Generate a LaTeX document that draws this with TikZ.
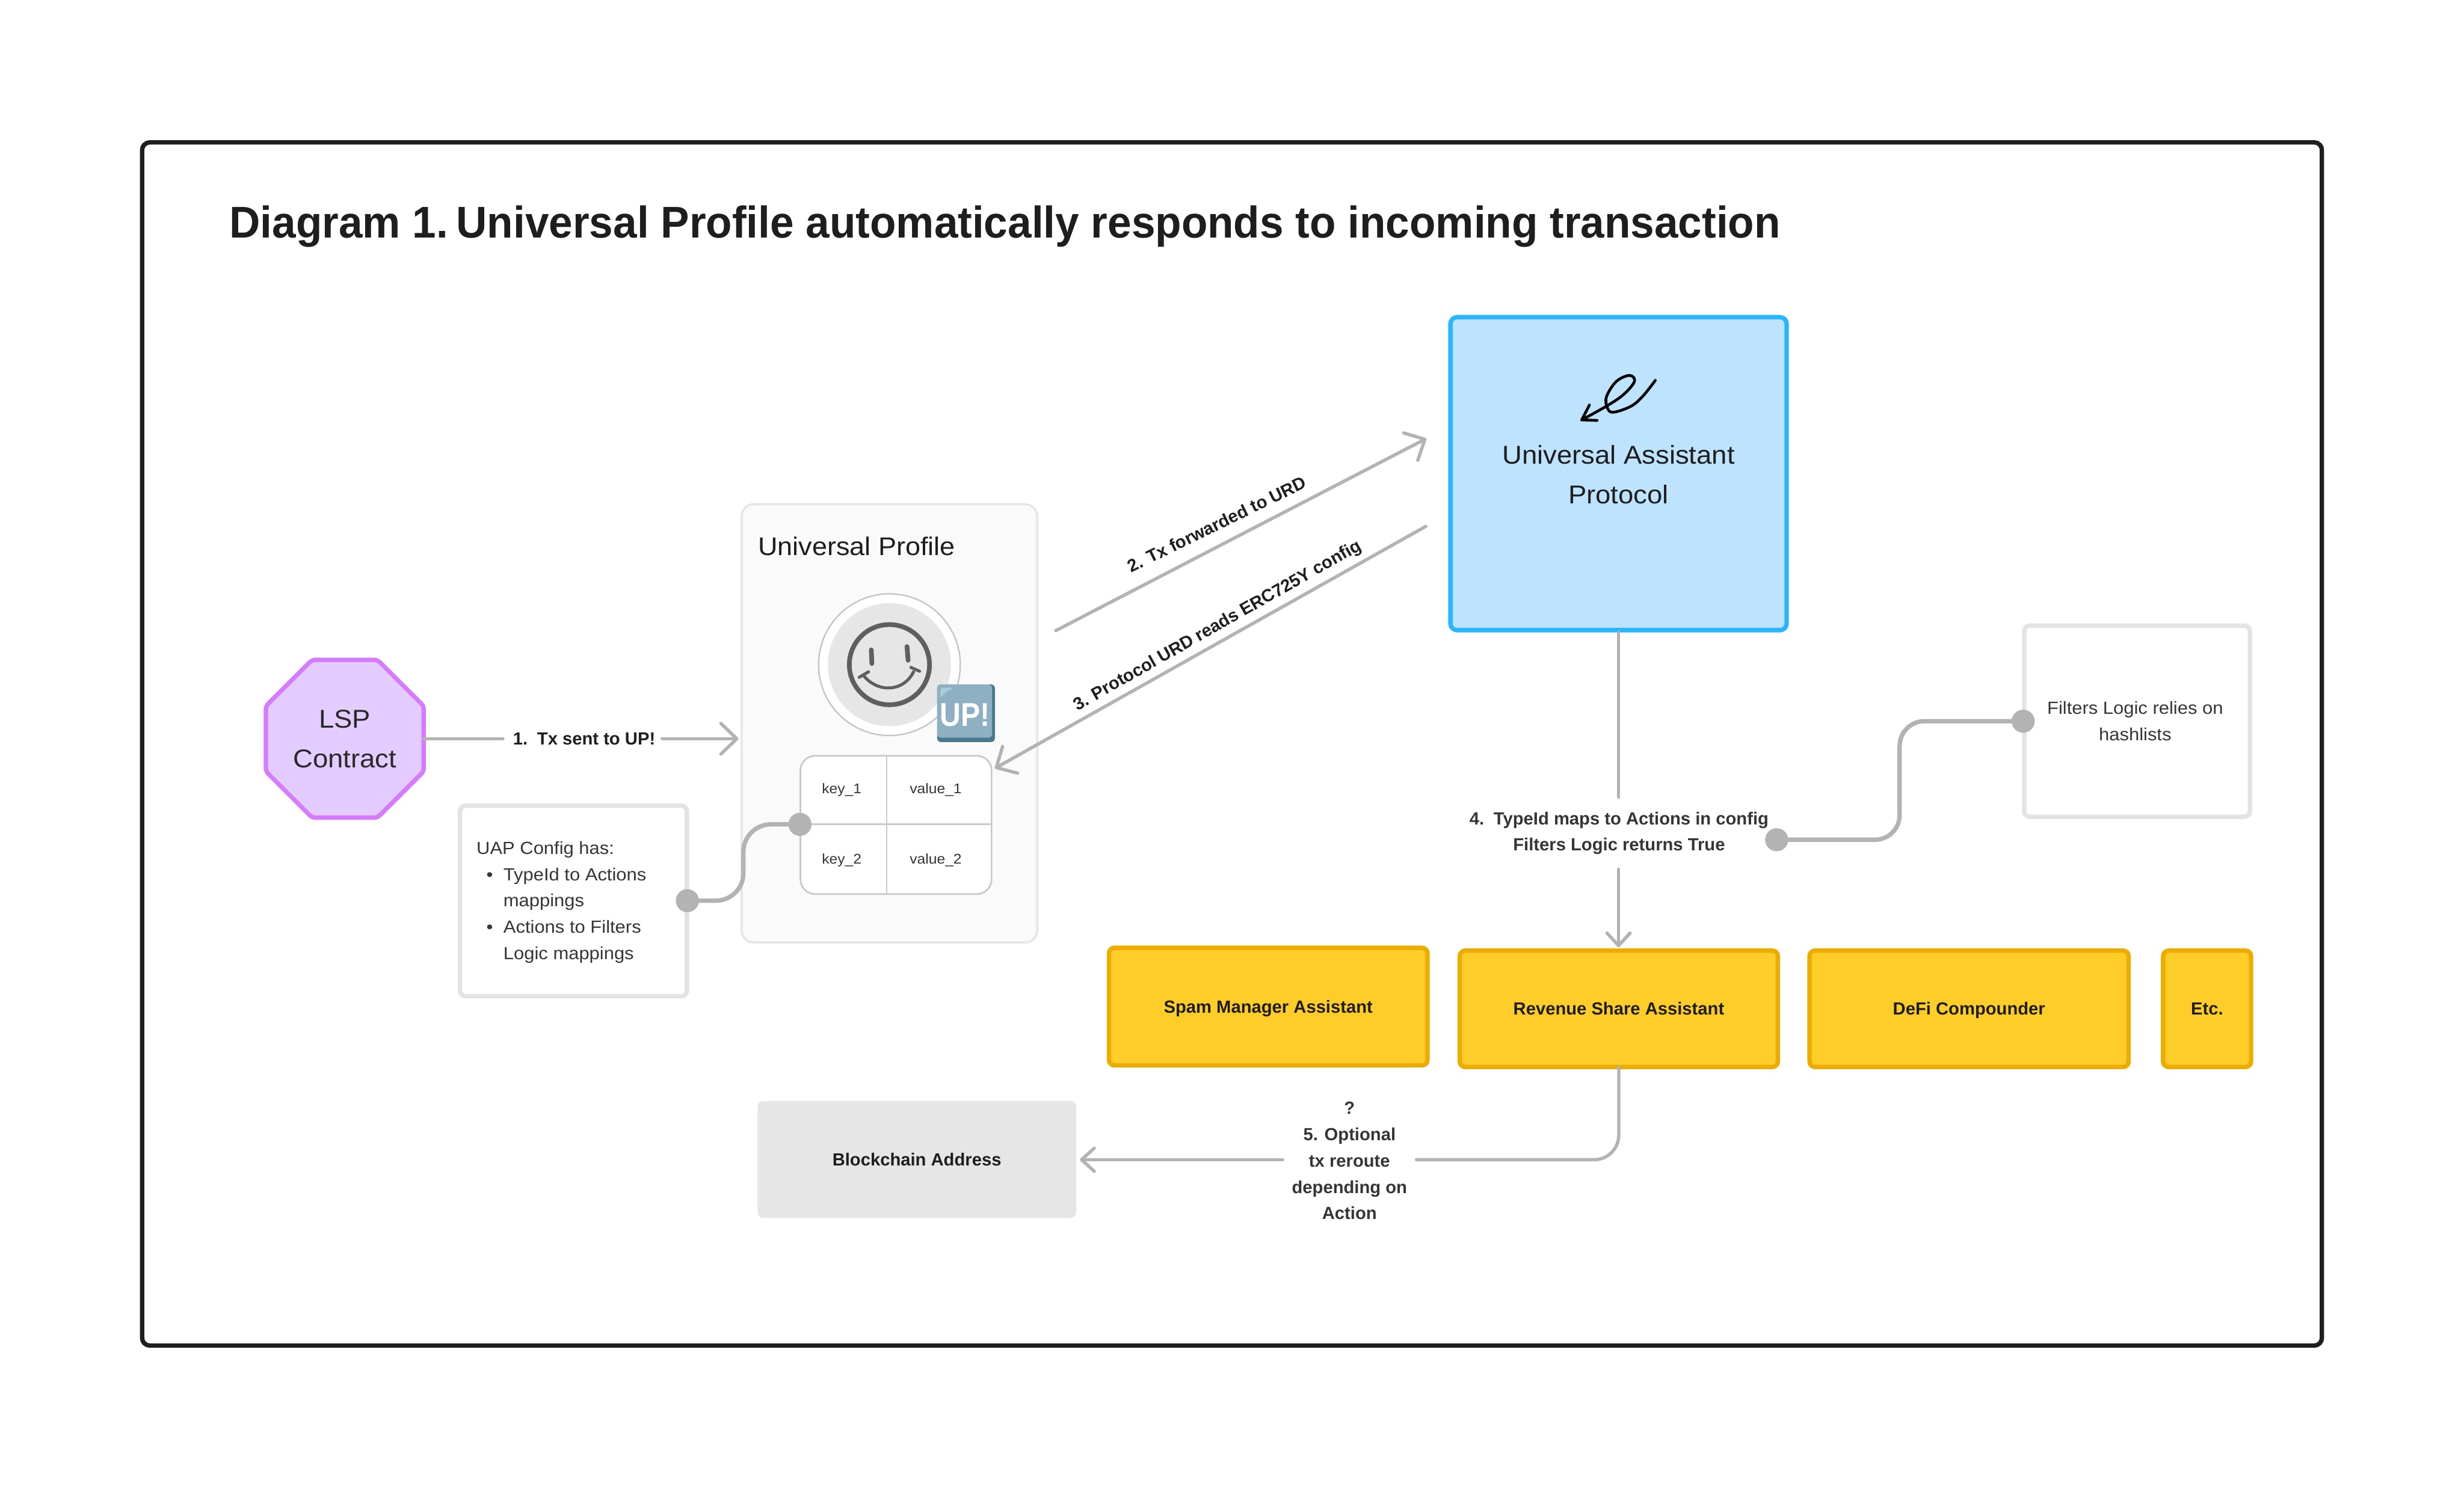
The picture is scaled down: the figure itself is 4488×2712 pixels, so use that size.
\documentclass[tikz,border=0pt]{standalone}
\usepackage{fontspec}
\setmainfont[FakeStretch=1.06]{Liberation Sans}
\newfontfamily\lblfont[FakeStretch=1.0]{Liberation Sans}
\newfontfamily\titlefont[FakeStretch=0.962]{Liberation Sans}
\newfontfamily\badgefont[FakeStretch=0.88]{Liberation Sans}
\usetikzlibrary{arrows.meta,shapes.geometric,calc}
\newcommand\fsz[2]{\fontsize{\the\dimexpr #1\dimexpr 0.01cm\relax\relax}{\the\dimexpr #2\dimexpr 0.01cm\relax\relax}\selectfont}
\definecolor{ink}{HTML}{1E1E1E}
\definecolor{conn}{HTML}{B3B3B3}
\definecolor{soft}{HTML}{E3E3E3}
\definecolor{ECAD00}{HTML}{ECAD00}
\definecolor{FFCD29}{HTML}{FFCD29}
\definecolor{D67BFF}{HTML}{D67BFF}
\definecolor{E3CCFF}{HTML}{E3CCFF}
\definecolor{E6E6E6}{HTML}{E6E6E6}
\definecolor{FAFAFA}{HTML}{FAFAFA}
\definecolor{C4C4C4}{HTML}{C4C4C4}
\definecolor{C9C9C9}{HTML}{C9C9C9}
\definecolor{5F5F5F}{HTML}{5F5F5F}
\definecolor{477A8C}{HTML}{477A8C}
\definecolor{8FB0C2}{HTML}{8FB0C2}
\definecolor{A9CCD9}{HTML}{A9CCD9}
\definecolor{29B6FF}{HTML}{29B6FF}
\definecolor{BDE3FF}{HTML}{BDE3FF}
\tikzset{
  x=0.01cm,y=-0.01cm,
  every node/.style={inner sep=0pt,outer sep=0pt,text=ink},
  wire/.style={draw=conn,line width=0.06cm,line cap=round},
  bigarrow/.style={wire,-{Straight Barb[length=0.29cm,width=0.56cm,round]}},
  smallarrow/.style={wire,-{Straight Barb[length=0.23cm,width=0.42cm,round]}},
  gluewire/.style={draw=conn,line width=0.08cm,line cap=round},
  dot/.style={circle,fill=conn,minimum size=0.42cm},
  softbox/.style={rectangle,draw=soft,fill=white,line width=0.08cm,rounded corners=0.1cm},
  ybox/.style={rectangle,draw=ECAD00,fill=FFCD29,line width=0.08cm,rounded corners=0.1cm,minimum height=2.1cm,text height=0.30cm,text depth=0.07cm,font=\lblfont\fsz{32}{44}\bfseries},
  ylabel/.style={font=\lblfont\fsz{32}{48}\bfseries,text=ink!90,align=center},
  rlabel/.style={font=\lblfont\fsz{32}{48}\bfseries,text=ink},
  bodytxt/.style={font=\fsz{32}{48},text=ink!90},
  celltxt/.style={font=\fsz{25.5}{36},text=ink!90,anchor=west},
  headtxt/.style={font=\fsz{47}{72},align=center,text=ink!95},
}
\begin{document}
\begin{tikzpicture}
\useasboundingbox (0,0) rectangle (4488,2712);
\fill[white] (0,0) rectangle (4488,2712);
% frame
\node[draw=ink,fill=white,line width=0.08cm,rounded corners=0.14cm,minimum width=39.68cm,minimum height=21.91cm] (frame) at (2244,1355.5) {};
\node[anchor=west,font=\titlefont\fsz{81}{100}\bfseries] (title) at (418,413) {Diagram 1.\kern-0.14cm{} Universal Profile automatically responds to incoming transaction};
% LSP
\node[regular polygon,regular polygon sides=8,minimum size=3.11cm,draw=D67BFF,fill=E3CCFF,line width=0.08cm,rounded corners=0.06cm] (lsp) at (628,1346) {};
\node[headtxt] (lsptxt) at (628,1346) {LSP\\Contract};
% UP container
\node[draw=E6E6E6,fill=FAFAFA,line width=0.04cm,rounded corners=0.22cm,minimum width=5.38cm,minimum height=7.98cm] (up) at (1620,1318) {};
\node[anchor=west,font=\fsz{46.5}{56},text=ink] (uptitle) at (1381,995) {Universal Profile};
% avatar
\node[circle,draw=C4C4C4,fill=white,line width=0.025cm,minimum size=2.58cm] (avatar) at (1620,1211) {};
\node[circle,fill=E6E6E6,minimum size=2.24cm] (avatarin) at (1620,1211) {};
\node[circle,draw=5F5F5F,line width=0.085cm,minimum size=1.46cm] (smile) at (1620,1211) {};
\draw[draw=5F5F5F,line width=0.085cm,line cap=round] (1587,1184) -- (1588,1209);
\draw[draw=5F5F5F,line width=0.085cm,line cap=round] (1652,1178) -- (1654,1203);
\draw[draw=5F5F5F,line width=0.055cm,line cap=round] (1573,1231) .. controls (1598,1262) and (1645,1262) .. (1664,1224);
\draw[draw=5F5F5F,line width=0.055cm,line cap=round] (1565,1234) -- (1582,1224);
\draw[draw=5F5F5F,line width=0.055cm,line cap=round] (1659,1216) -- (1675,1223);
% badge
\fill[fill=477A8C,rounded corners=0.06cm] (1707,1247) rectangle (1812,1352);
\fill[fill=8FB0C2,rounded corners=0.06cm] (1707,1247) rectangle (1807,1344);
\fill[fill=A9CCD9,rounded corners=0.04cm] (1713,1253) -- (1738,1253) -- (1722,1261) -- (1713,1272) -- cycle;
\node[font=\badgefont\fsz{60}{60}\bfseries,text=white] (badge) at (1758,1303) {UP!};
% table
\node[draw=C9C9C9,fill=white,line width=0.03cm,rounded corners=0.27cm,minimum width=3.48cm,minimum height=2.52cm] (kv) at (1632,1503) {};
\coordinate (kvtop) at (1615,1376);
\coordinate (kvbot) at (1615,1630);
\coordinate (kvl) at (1457,1502);
\coordinate (kvr) at (1807,1502);
\draw[draw=C9C9C9,line width=0.03cm] (kvtop) -- (kvbot);
\draw[draw=C9C9C9,line width=0.03cm] (kvl) -- (kvr);
\node[celltxt] (k1) at (1497,1439) {key\_1};
\node[celltxt] (v1) at (1657,1439) {value\_1};
\node[celltxt] (k2) at (1497,1567) {key\_2};
\node[celltxt] (v2) at (1657,1567) {value\_2};
% UAP config
\node[softbox,minimum width=4.13cm,minimum height=3.47cm] (cfg) at (1044.5,1641.5) {};
\node[bodytxt,anchor=west,align=left] (cfgtxt) at (868,1644) {UAP Config has:\\
\makebox[0.49cm][l]{\hspace{0.18cm}•}TypeId to Actions\\
\hspace{0.49cm}mappings\\
\makebox[0.49cm][l]{\hspace{0.18cm}•}Actions to Filters\\
\hspace{0.49cm}Logic mappings};
\node[dot] (cfgdot) at (1252,1641) {};
\node[dot] (kvdot) at (1457,1502) {};
\coordinate (bendA) at (1354,1571);
\draw[gluewire,rounded corners=0.5cm] (cfgdot.center) -- (cfgdot -| bendA) -- (kvdot -| bendA) -- (kvdot.center);
% Blue
\node[draw=29B6FF,fill=BDE3FF,line width=0.08cm,rounded corners=0.12cm,minimum width=6.12cm,minimum height=5.70cm] (uapbox) at (2948,863) {};
\node[headtxt,text=ink] (uaptxt) at (2948,865) {Universal Assistant\\Protocol};
\draw[black,line width=0.05cm,line cap=round,line join=round] plot[smooth,tension=0.6] coordinates {(2881,765) (2926,740) (2957,719) (2977,695) (2968,684) (2944,695) (2926,723) (2928,744) (2939,751) (2971,740) (2993,721) (3015,693)};
\draw[black,line width=0.05cm,line cap=round,line join=round] (2895,738) -- (2881,765) -- (2909,766);
% connector 1
\node[rlabel,minimum width=2.9cm] (l1) at (1064,1346) {1.\, Tx sent to UP!};
\coordinate (l1w) at (916,1346);
\coordinate (l1e) at (1206,1346);
\coordinate (t1) at (1345,1346);
\draw[wire] (lsp.east) -- (l1w);
\draw[bigarrow] (l1e) -- (t1);
% connector 2
\coordinate (a2s) at (1923,1149);
\coordinate (a2t) at (2598,799);
\draw[bigarrow] (a2s) -- (a2t);
\node[rlabel,rotate=26] (l2) at (2216,955) {2. Tx forwarded to URD};
% connector 3
\coordinate (a3s) at (2597,959);
\coordinate (a3t) at (1812,1400);
\draw[bigarrow] (a3s) -- (a3t);
\node[rlabel,rotate=29.6] (l3) at (2218,1141) {3. Protocol URD reads ERC725Y config};
% assistants
\node[ybox,minimum width=5.80cm,minimum height=2.14cm] (spam) at (2310,1834) {Spam Manager Assistant};
\node[ybox,minimum width=5.79cm,minimum height=2.12cm] (rev) at (2948.5,1838) {Revenue Share Assistant};
\node[ybox,minimum width=5.81cm,minimum height=2.12cm] (defi) at (3586.5,1838) {DeFi Compounder};
\node[ybox,minimum width=1.60cm,minimum height=2.12cm] (etc) at (4020,1838) {Etc.};
% connector 4
\node[ylabel,minimum height=1.31cm] (l4) at (2949,1518) {4.\, TypeId maps to Actions in config\\Filters Logic returns True};
\coordinate (t4) at (2948,1726);
\draw[wire,shorten <=0.04cm] (uapbox.south) -- (l4.north -| uapbox.south);
\draw[smallarrow] (l4.south -| t4) -- (t4);
% filters
\node[softbox,minimum width=4.11cm,minimum height=3.48cm] (filt) at (3892.5,1314) {};
\node[bodytxt,align=center] (filttxt) at (3889,1314) {Filters Logic relies on\\hashlists};
\node[dot] (filtdot) at (3685,1314) {};
\node[dot] (l4dot) at (3236,1530) {};
\coordinate (bendB) at (3460,1422);
\draw[gluewire,rounded corners=0.45cm] (l4dot.center) -- (l4dot -| bendB) -- (filtdot -| bendB) -- (filtdot.center);
% blockchain
\node[fill=E6E6E6,rounded corners=0.1cm,minimum width=5.8cm,minimum height=2.13cm,text height=0.30cm,text depth=0.07cm,font=\lblfont\fsz{32}{44}\bfseries] (bc) at (1670,2112.5) {Blockchain Address};
% connector 5
\node[ylabel,minimum width=2.44cm] (l5) at (2458,2115) {?\\5. Optional\\tx reroute\\depending on\\Action};
\coordinate (t5) at (1967,2113);
\coordinate (c5) at (2580,2113);
\coordinate (c5b) at (2336,2113);
\draw[wire,rounded corners=0.45cm] (rev.south) |- (c5);
\draw[smallarrow] (c5b) -- (t5);
\end{tikzpicture}
\end{document}
